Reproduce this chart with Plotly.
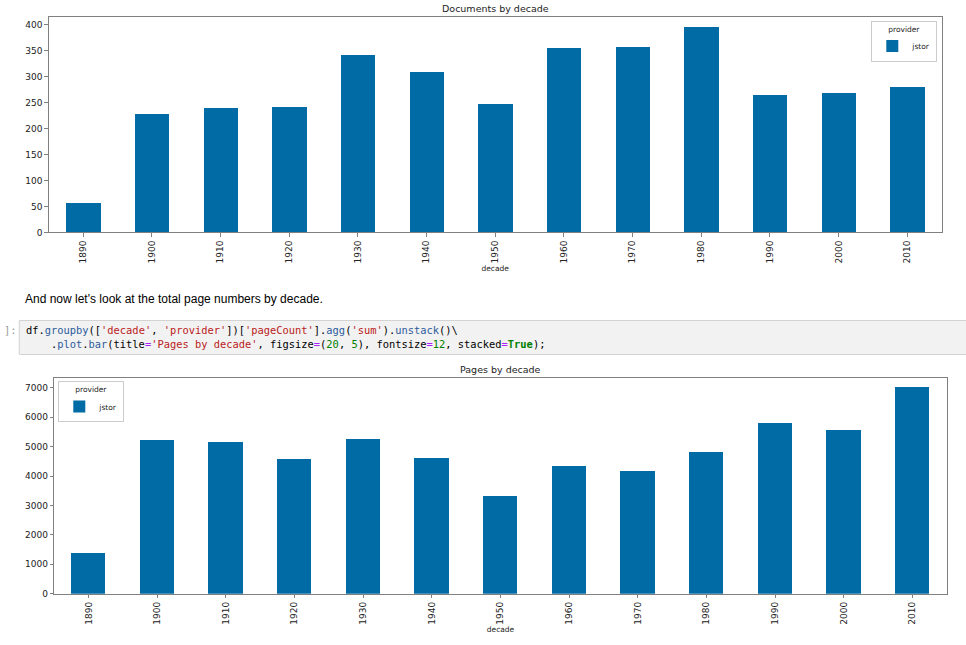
import plotly.graph_objects as go

decades = ["1890", "1900", "1910", "1920", "1930", "1940", "1950",
           "1960", "1970", "1980", "1990", "2000", "2010"]
doc_counts = [56, 228, 239, 241, 342, 309, 248, 355, 356, 396, 265, 269, 280]
page_counts = [1384, 5233, 5176, 4591, 5267, 4625, 3342, 4355, 4186, 4838, 5817, 5570, 7033]
provider = "jstor"

W, H = 966, 645
BAR = "#006BA4"
SPINE = "#808080"


def px_x(p):
    return p / W


def px_y(p):
    return 1 - p / H


fig = go.Figure()
fig.add_trace(go.Bar(x=decades, y=doc_counts, name=provider, width=0.5,
                     marker=dict(color=BAR, line=dict(width=0)),
                     xaxis="x", yaxis="y", legend="legend"))
fig.add_trace(go.Bar(x=decades, y=page_counts, name=provider, width=0.5,
                     marker=dict(color=BAR, line=dict(width=0)),
                     xaxis="x2", yaxis="y2", legend="legend2"))

axis_common = dict(showline=True, mirror=True, linecolor=SPINE, linewidth=1,
                   ticks="outside", ticklen=3.5, tickcolor=SPINE, showgrid=False,
                   zeroline=False, tickfont=dict(family="DejaVu Sans", size=9, color="#222"))
xcommon = dict(axis_common, type="category", tickangle=-90,
               title=dict(text="decade", font=dict(family="DejaVu Sans", size=7.5, color="#222"),
                          standoff=3))

legend_common = dict(title=dict(text="provider", side="top center",
                                font=dict(family="DejaVu Sans", size=7.5, color="#222")),
                     font=dict(family="DejaVu Sans", size=7.5, color="#222"),
                     bgcolor="white", bordercolor="#cccccc", borderwidth=1,
                     itemwidth=30, tracegroupgap=0)

fig.update_layout(
    width=W, height=H,
    margin=dict(l=0, r=0, t=0, b=0),
    paper_bgcolor="white", plot_bgcolor="white",
    showlegend=True,
    bargap=0,
    xaxis=dict(xcommon, domain=[px_x(48.7), px_x(941.7)], anchor="y"),
    yaxis=dict(axis_common, domain=[px_y(234.3), px_y(17.3)], range=[0, 414.7],
               dtick=50, anchor="x"),
    xaxis2=dict(xcommon, domain=[px_x(54.3), px_x(946.7)], anchor="y2"),
    yaxis2=dict(axis_common, domain=[px_y(598.3), px_y(380.7)], range=[0, 7346],
                dtick=1000, anchor="x2"),
    legend=dict(legend_common, x=px_x(937.3), xanchor="right", y=px_y(21), yanchor="top"),
    legend2=dict(legend_common, x=px_x(58.3), xanchor="left", y=px_y(384.3), yanchor="top"),
)

title_font = dict(family="DejaVu Sans", size=9.5, color="#222")
fig.add_annotation(text="Documents by decade", xref="paper", yref="paper",
                   x=px_x(495), y=px_y(9), xanchor="center", yanchor="middle",
                   showarrow=False, font=title_font)
fig.add_annotation(text="Pages by decade", xref="paper", yref="paper",
                   x=px_x(500), y=px_y(372), xanchor="center", yanchor="middle",
                   showarrow=False, font=title_font)

# notebook markdown text
fig.add_annotation(text="And now let's look at the total page numbers by decade.",
                   xref="paper", yref="paper", x=px_x(23), y=px_y(301),
                   xanchor="left", yanchor="middle", showarrow=False,
                   font=dict(family="Liberation Sans", size=12, color="#000"))

# code cell
fig.add_shape(type="rect", xref="paper", yref="paper",
              x0=px_x(19.3), x1=1.02, y0=px_y(357.3), y1=px_y(323),
              fillcolor="#f2f2f2", line=dict(color="#d3d3d3", width=1), layer="below")

fig.add_annotation(text="]:", xref="paper", yref="paper", x=px_x(2), y=px_y(333),
                   xanchor="left", yanchor="middle", showarrow=False,
                   font=dict(family="DejaVu Sans Mono", size=10.4, color="#9a9a9a"))

BLUE = "#2c5b9c"
RED = "#BA2121"
PURP = "#AA22FF"
GREEN = "#008000"


def c(txt, col):
    return f'<span style="color:{col}">{txt}</span>'


eq = c("=", PURP)
line1 = ("df." + c("groupby", BLUE) + "([" + c("'decade'", RED) + ", " + c("'provider'", RED)
         + "])[" + c("'pageCount'", RED) + "]." + c("agg", BLUE) + "(" + c("'sum'", RED)
         + ")." + c("unstack", BLUE) + "()\\")
line2 = ("." + c("plot", BLUE) + "." + c("bar", BLUE) + "(title" + eq + c("'Pages by decade'", RED)
         + ", figsize" + eq + "(" + c("20", GREEN) + ", " + c("5", GREEN) + "), fontsize" + eq
         + c("12", GREEN) + ", stacked" + eq + "<b>" + c("True", GREEN) + "</b>);")
code_font = dict(family="DejaVu Sans Mono", size=10.4, color="#000")
fig.add_annotation(text=line1, xref="paper", yref="paper", x=px_x(24), y=px_y(333),
                   xanchor="left", yanchor="middle", showarrow=False, font=code_font)
fig.add_annotation(text=line2, xref="paper", yref="paper", x=px_x(49), y=px_y(347),
                   xanchor="left", yanchor="middle", showarrow=False, font=code_font)

# drop the default page margin so the figure fills the window like the screenshot
fig.write_html("out.html", config={"displayModeBar": False},
               post_script="document.body.style.margin = '0';")
